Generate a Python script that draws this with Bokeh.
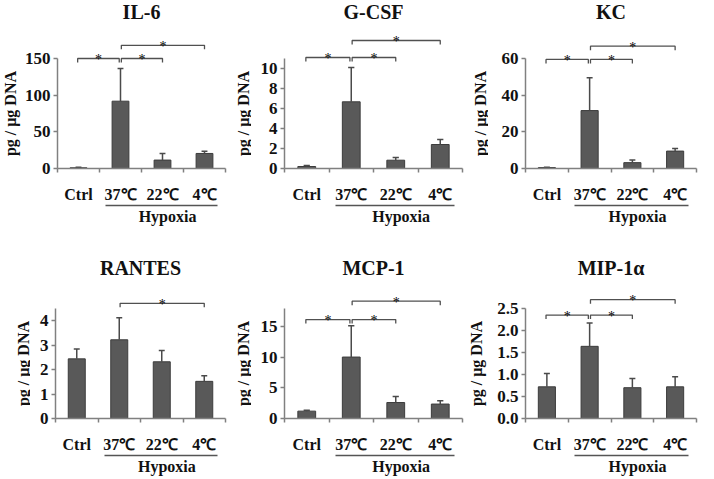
import math
from bokeh.plotting import figure
from bokeh.layouts import row, column
from bokeh.models import FixedTicker, LinearAxis, Range1d, NumeralTickFormatter
from bokeh.core.properties import value
from bokeh.embed import file_html
from bokeh.resources import INLINE

# ---------------- data ----------------
groups = ["Ctrl", "37℃", "22℃", "4℃"]
hypoxia_label = "Hypoxia"
y_label = "pg / μg DNA"
titles = ["IL-6", "G-CSF", "KC", "RANTES", "MCP-1", "MIP-1α"]

il6_mean = [1.0, 91.8, 11.5, 20.5]
il6_err = [0.6, 44.5, 9.0, 3.0]
gcsf_mean = [0.2, 6.67, 0.83, 2.4]
gcsf_err = [0.1, 3.43, 0.27, 0.5]
kc_mean = [0.5, 31.6, 3.2, 9.5]
kc_err = [0.2, 17.9, 1.5, 1.4]
rantes_mean = [2.44, 3.22, 2.32, 1.52]
rantes_err = [0.40, 0.90, 0.46, 0.23]
mcp1_mean = [1.2, 10.0, 2.6, 2.35]
mcp1_err = [0.16, 5.1, 1.0, 0.55]
mip_mean = [0.72, 1.64, 0.70, 0.72]
mip_err = [0.30, 0.53, 0.21, 0.23]

il6_ticks = [0, 50, 100, 150]
gcsf_ticks = [0, 2, 4, 6, 8, 10]
kc_ticks = [0, 20, 40, 60]
rantes_ticks = [0, 1, 2, 3, 4]
mcp1_ticks = [0, 5, 10, 15]
mip_ticks = [0, 0.5, 1.0, 1.5, 2.0, 2.5]

axis_max = [150, 11, 60, 4.5, 17.9, 2.5]

# significance brackets: (group a, group b, level)
il6_sig = [(0, 1, 150), (1, 2, 150), (1, 3, 168)]
gcsf_sig = [(0, 1, 11.1), (1, 2, 11.1), (1, 3, 12.8)]
kc_sig = [(0, 1, 59.5), (1, 2, 59.5), (1, 3, 66.7)]
rantes_sig = [(1, 3, 4.71)]
mcp1_sig = [(0, 1, 16.1), (1, 2, 16.1), (1, 3, 19.1)]
mip_sig = [(0, 1, 2.35), (1, 2, 2.35), (1, 3, 2.70)]

panels = [
    (titles[0], il6_mean, il6_err, il6_ticks, axis_max[0], il6_sig),
    (titles[1], gcsf_mean, gcsf_err, gcsf_ticks, axis_max[1], gcsf_sig),
    (titles[2], kc_mean, kc_err, kc_ticks, axis_max[2], kc_sig),
    (titles[3], rantes_mean, rantes_err, rantes_ticks, axis_max[3], rantes_sig),
    (titles[4], mcp1_mean, mcp1_err, mcp1_ticks, axis_max[4], mcp1_sig),
    (titles[5], mip_mean, mip_err, mip_ticks, axis_max[5], mip_sig),
]

# ---------------- layout / style ----------------
FRAME_H = [168, 186]      # frame: from the top of each row down to the x axis
AXIS_PX = 110             # pixel height of the drawn y axis
BOTTOM_B = [64, 60]       # room for the category axis + hypoxia axis
TITLE_OFF = [0, 24]
COL_W = [229, 237, 232]
BORDER_L = [55, 55, 59]   # from column start to the y axis
FRAME_W = [170, 178, 171]
LAB_W = [21, 22, 22, 30, 22, 22]     # width of the strip holding the y title
LAB_X = [10, 14, 14, 22.5, 14, 10]   # centre of the y title inside that strip

FONT = value("Liberation Serif")
AXIS_COL = "#808080"
BAR_FILL = "#595959"
BAR_LINE = "#3c3c3c"
INK = "#111111"


def style_fig(f):
    f.outline_line_color = None
    f.grid.visible = False
    f.background_fill_color = "white"
    f.border_fill_color = "white"


def make_panel(idx):
    title, mean, err, ticks, amax, sig = panels[idx]
    r, c = divmod(idx, 3)
    fh = FRAME_H[r]
    y_end = amax * fh / AXIS_PX
    upp = y_end / fh  # data units per pixel
    yr = Range1d(0, y_end)
    h = fh + BOTTOM_B[r]
    xc = [i + 0.5 for i in range(len(groups))]

    # strip with the rotated y title, centred on the drawn axis
    lab = figure(width=LAB_W[idx], height=h, output_backend="svg",
                 toolbar_location=None, x_range=Range1d(0, LAB_W[idx]), y_range=yr,
                 x_axis_type=None, y_axis_type=None,
                 min_border_left=0, min_border_right=0,
                 min_border_top=0, min_border_bottom=BOTTOM_B[r])
    style_fig(lab)
    lab.text(x=[LAB_X[idx]], y=[amax / 2], text=[y_label], angle=math.pi / 2,
             text_align="center", text_baseline="middle", text_font=FONT,
             text_font_style="bold", text_font_size="16px", text_color=INK)

    p = figure(width=COL_W[c] - LAB_W[idx], height=h, output_backend="svg",
               toolbar_location=None, x_range=Range1d(0, 4), y_range=yr,
               min_border_left=BORDER_L[c] - LAB_W[idx],
               min_border_right=COL_W[c] - BORDER_L[c] - FRAME_W[c],
               min_border_top=0, min_border_bottom=BOTTOM_B[r])
    style_fig(p)

    tops = [m + e for m, e in zip(mean, err)]
    p.vbar(x=xc, top=mean, bottom=0, width=0.4, fill_color=BAR_FILL,
           line_color=BAR_LINE, line_width=1)
    p.segment(x0=xc, y0=mean, x1=xc, y1=tops, line_color="#4a4a4a", line_width=1.5)
    p.segment(x0=[x - 0.07 for x in xc], y0=tops, x1=[x + 0.07 for x in xc], y1=tops,
              line_color="#4a4a4a", line_width=1.5)

    # significance brackets
    d = 4 * upp
    xs_list, ys_list, sx, sy = [], [], [], []
    for a, b, lvl in sig:
        x0 = xc[a] + (0.02 if a == 1 else -0.02)
        x1 = xc[b] + (-0.03 if b == 1 else 0.0)
        xs_list.append([x0, x0, x1, x1])
        ys_list.append([lvl - d, lvl, lvl, lvl - d])
        sx.append((x0 + x1) / 2)
        sy.append(lvl)
    p.multi_line(xs=xs_list, ys=ys_list, line_color="#505050", line_width=1.3)
    p.text(x=sx, y=sy, text=["*"] * len(sx), text_align="center",
           text_baseline="alphabetic", text_font=FONT, text_font_size="14px",
           text_color="#000000", y_offset=1)

    # title
    p.text(x=[2], y=[y_end], text=[title], text_align="center", text_baseline="top",
           text_font=FONT, text_font_style="bold", text_font_size="20px",
           text_color=INK, y_offset=TITLE_OFF[r])

    # y axis
    ya = p.yaxis[0]
    ya.ticker = FixedTicker(ticks=ticks, minor_ticks=[])
    ya.bounds = (0, amax)
    if idx == 5:
        ya.formatter = NumeralTickFormatter(format="0.0")
    ya.major_label_text_font = "Liberation Serif"
    ya.major_label_text_font_style = "bold"
    ya.major_label_text_font_size = "17px"
    ya.major_label_text_color = INK
    ya.major_label_standoff = 3
    ya.major_tick_out = 4
    ya.major_tick_in = 0
    ya.minor_tick_out = 0
    ya.minor_tick_in = 0
    ya.axis_line_color = AXIS_COL
    ya.axis_line_width = 1.5
    ya.major_tick_line_color = AXIS_COL
    ya.major_tick_line_width = 1.5

    # x axis (group labels)
    xa = p.xaxis[0]
    xa.ticker = FixedTicker(ticks=xc, minor_ticks=[0, 1, 2, 3, 4])
    xa.major_label_overrides = {x: g for x, g in zip(xc, groups)}
    xa.major_label_text_font = "Liberation Serif"
    xa.major_label_text_font_style = "bold"
    xa.major_label_text_font_size = "16px"
    xa.major_label_text_color = INK
    xa.major_label_standoff = 13
    xa.major_tick_out = 0
    xa.major_tick_in = 0
    xa.minor_tick_out = 4
    xa.minor_tick_in = 0
    xa.minor_tick_line_color = AXIS_COL
    xa.minor_tick_line_width = 1.5
    xa.axis_line_color = AXIS_COL
    xa.axis_line_width = 1.5

    # hypoxia underline + label (a second, bounded axis)
    hx = 2.62
    ha = LinearAxis(ticker=FixedTicker(ticks=[hx], minor_ticks=[]), bounds=(1.15, 3.82))
    ha.major_label_overrides = {hx: hypoxia_label}
    ha.major_label_text_font = "Liberation Serif"
    ha.major_label_text_font_style = "bold"
    ha.major_label_text_font_size = "16px"
    ha.major_label_text_color = INK
    ha.major_label_standoff = 2
    ha.major_tick_out = 0
    ha.major_tick_in = 0
    ha.minor_tick_out = 0
    ha.minor_tick_in = 0
    ha.axis_line_color = "#555555"
    ha.axis_line_width = 1.5
    p.add_layout(ha, "below")

    return row(lab, p)


cols = [make_panel(i) for i in range(6)]
layout = column(row(*cols[:3]), row(*cols[3:]))

open("out.html", "w").write(file_html(layout, INLINE))
